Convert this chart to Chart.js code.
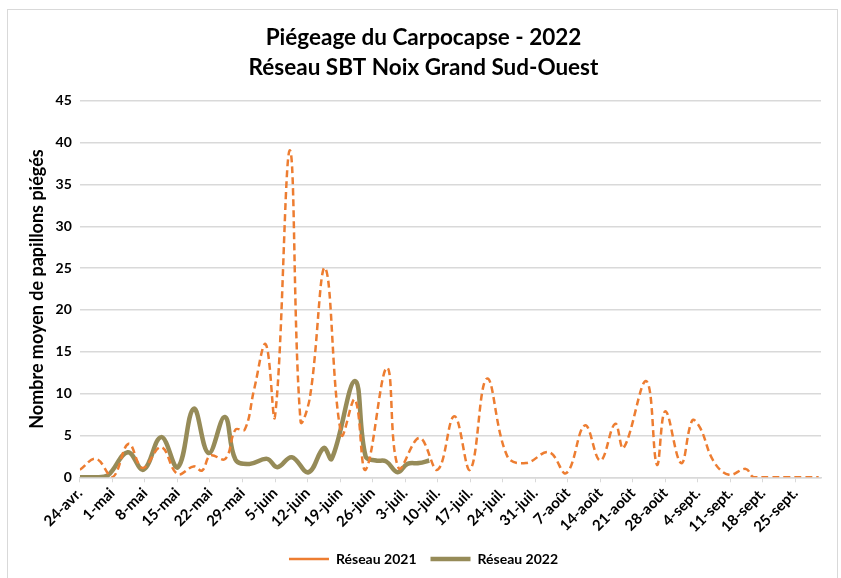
<!DOCTYPE html>
<html>
<head>
<meta charset="utf-8">
<script src="https://cdn.jsdelivr.net/npm/chart.js@4.4.0/dist/chart.umd.min.js"></script>
<style>
  html, body { margin: 0; padding: 0; background: #fff; }
  #wrap { position: absolute; left: 7px; top: 9px; width: 831px; height: 575px; border: 1px solid #d9d9d9; box-sizing: border-box; }
  #box { position: absolute; left: 0; top: 0; width: 841px; height: 578px; }
</style>
</head>
<body>
<div id="wrap"></div>
<div id="box"><canvas id="myChart" width="841" height="578"></canvas></div>
<script>
  // jours depuis le 24 avril
  const tickLabels = ["24-avr.", "1-mai", "8-mai", "15-mai", "22-mai", "29-mai", "5-juin", "12-juin", "19-juin", "26-juin",
    "3-juil.", "10-juil.", "17-juil.", "24-juil.", "31-juil.", "7-août", "14-août", "21-août", "28-août", "4-sept.",
    "11-sept.", "18-sept.", "25-sept."];

  const days2021 = [0, 3.5, 7, 10.5, 13.5, 17.5, 21, 24.5, 26.3, 28.1, 31.3, 33.5, 35.5, 37.5, 40, 42, 45.2, 47.5, 49.5, 52.8, 56.3, 59.2, 61.5, 66.1, 68.6, 73.1, 77, 80.6, 84, 87.6, 92, 96, 101, 104.7, 108.7, 112, 115.2, 117, 121.9, 124.2, 126, 129.4, 131.8, 133.5, 136.4, 139.7, 143.3, 145, 148.5, 152, 155.5, 159];
  const vals2021 = [0.9, 2.2, 0, 4.0, 1.1, 3.6, 0.4, 1.3, 0.8, 2.6, 2.2, 5.7, 5.7, 10.5, 15.9, 7.3, 39.1, 6.7, 9.5, 25.0, 5.1, 9.3, 0.9, 13.1, 1.1, 4.7, 0.9, 7.3, 0.9, 11.8, 2.5, 1.7, 3.0, 0.5, 6.2, 2.0, 6.4, 3.5, 11.5, 1.5, 7.9, 1.7, 6.8, 5.9, 1.9, 0.3, 1.0, 0, 0, 0, 0, 0];

  const days2022 = [0, 3.5, 6, 10.3, 13.7, 17.5, 21.1, 24.5, 27.7, 31.2, 33.5, 36.5, 40.3, 42.5, 45.6, 49.2, 52.5, 54.2, 59.2, 61.5, 63.7, 65.9, 68.4, 70.5, 73, 75.2];
  const vals2022 = [0, 0, 0.2, 3.0, 0.9, 4.8, 1.2, 8.2, 2.9, 7.2, 2.1, 1.6, 2.2, 1.2, 2.4, 0.6, 3.5, 2.2, 11.5, 2.5, 2.0, 1.9, 0.6, 1.6, 1.7, 2.0];

  const yTicks = [0, 5, 10, 15, 20, 25, 30, 35, 40, 45];

  function toPoints(xs, ys) {
    let pts = [];
    for (let i = 0; i < xs.length; i++) {
      pts.push({ x: xs[i], y: ys[i] });
    }
    return pts;
  }

  const font = "Lato";
  Chart.defaults.font.family = font;
  Chart.defaults.color = "#000";

  new Chart("myChart", {
    type: "line",
    data: {
      datasets: [
        {
          label: "Réseau 2021",
          data: toPoints(days2021, vals2021),
          borderColor: "#ED7D31",
          backgroundColor: "#ED7D31",
          borderWidth: 2.5,
          borderDash: [7, 4],
          pointRadius: 0,
          tension: 0.4,
          fill: false
        },
        {
          label: "Réseau 2022",
          data: toPoints(days2022, vals2022),
          borderColor: "#968B58",
          backgroundColor: "#968B58",
          borderWidth: 4.5,
          pointRadius: 0,
          tension: 0.4,
          fill: false
        }
      ]
    },
    options: {
      responsive: false,
      animation: false,
      layout: { padding: { left: 26, right: 20, top: 10, bottom: 2 } },
      plugins: {
        title: {
          display: true,
          text: ["Piégeage du Carpocapse - 2022", "Réseau SBT Noix Grand Sud-Ouest"],
          font: { size: 22.5, weight: "bold", lineHeight: 1.33 },
          color: "#000",
          padding: { top: 13, bottom: 18 }
        },
        legend: {
          position: "bottom",
          labels: {
            usePointStyle: true,
            pointStyle: "line",
            pointStyleWidth: 40,
            boxHeight: 10,
            font: { size: 14, weight: "bold" },
            color: "#000",
            padding: 14
          }
        },
        tooltip: { enabled: false }
      },
      scales: {
        x: {
          type: "linear",
          min: 0,
          max: 159.5,
          afterBuildTicks: function(axis) {
            axis.ticks = tickLabels.map((t, i) => ({ value: i * 7 }));
          },
          ticks: {
            callback: function(value) { return tickLabels[Math.round(value / 7)]; },
            minRotation: 45,
            maxRotation: 45,
            autoSkip: false,
            font: { size: 15, weight: "bold" },
            color: "#000",
            padding: 2
          },
          grid: { drawOnChartArea: false, drawTicks: true, tickLength: 5, color: "#d9d9d9", lineWidth: 1 },
          border: { display: true, color: "#d9d9d9", width: 1.5 }
        },
        y: {
          min: 0,
          max: 45,
          afterBuildTicks: function(axis) {
            axis.ticks = yTicks.map(v => ({ value: v }));
          },
          ticks: {
            font: { size: 14, weight: "bold" },
            color: "#000",
            padding: 8
          },
          title: {
            display: true,
            text: "Nombre moyen de papillons piégés",
            font: { size: 18, weight: "bold" },
            color: "#000",
            padding: { top: 0, bottom: 0 }
          },
          grid: { color: "#d9d9d9", lineWidth: 1.5, drawTicks: false },
          border: { display: false }
        }
      }
    }
  });
</script>
</body>
</html>
